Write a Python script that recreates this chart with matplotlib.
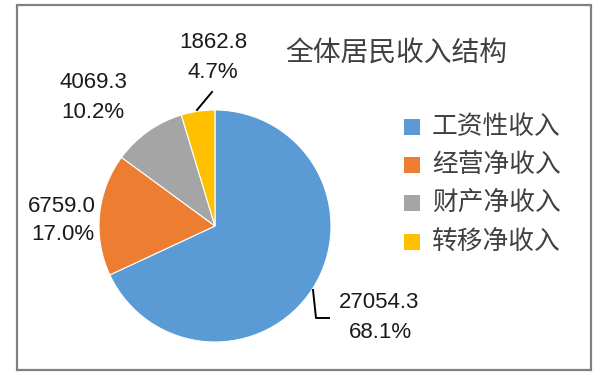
import matplotlib
matplotlib.use("Agg")
import matplotlib.pyplot as plt
from matplotlib.patches import Rectangle

# data
categories = ["工资性收入", "经营净收入", "财产净收入", "转移净收入"]
values = [27054.3, 6759.0, 4069.3, 1862.8]
percents = ["68.1%", "17.0%", "10.2%", "4.7%"]
colors = ["#5B9BD5", "#ED7D31", "#A5A5A5", "#FFC000"]
title = "全体居民收入结构"

W, H = 600, 385
cjk = ["Noto Sans CJK SC", "DejaVu Sans"]
num_font = "Liberation Sans"

fig = plt.figure(figsize=(W / 100, H / 100), dpi=100)
ax = fig.add_axes([0, 0, 1, 1])

def py(y):
    # pixel row (top origin) -> data y
    return H - y

ax.pie(values, colors=colors, startangle=90, counterclock=False,
       radius=116, center=(215, py(226)),
       wedgeprops=dict(edgecolor="white", linewidth=0.8))
ax.set_xlim(0, W)
ax.set_ylim(0, H)
ax.set_aspect("equal")
ax.set_axis_off()

# outer frame
ax.add_patch(Rectangle((17, py(370)), 574, 365, fill=False,
                       edgecolor="#808080", linewidth=1.6, clip_on=False))

# data labels
label_pos = [((379, 303), (380, 333)),
             ((62, 206), (63, 235)),
             ((93, 83), (93, 113)),
             ((213, 42), (213, 72))]
for v, p, (a, b) in zip(values, percents, label_pos):
    ax.text(a[0], py(a[1]), f"{v:.1f}", ha="center", va="center",
            fontsize=16, family=num_font, color="#1a1a1a")
    ax.text(b[0], py(b[1]), p, ha="center", va="center",
            fontsize=16, family=num_font, color="#1a1a1a")

# leader lines
ax.plot([197, 212], [py(110), py(92)], color="black", lw=1.4)
ax.plot([313, 316, 329], [py(290), py(318), py(318)], color="black", lw=1.4)

# title
ax.text(396, py(54), title, ha="center", va="center", fontsize=20,
        family=cjk, color="#404040")

# legend
leg_y = [127, 165, 203, 242]
for name, c, y in zip(categories, colors, leg_y):
    ax.add_patch(Rectangle((404, py(y) - 8), 16, 16, facecolor=c,
                           edgecolor="none"))
    ax.text(432, py(y), name, ha="left", va="center", fontsize=18.5,
            family=cjk, color="#404040")

fig.savefig("out.png", dpi=100)
